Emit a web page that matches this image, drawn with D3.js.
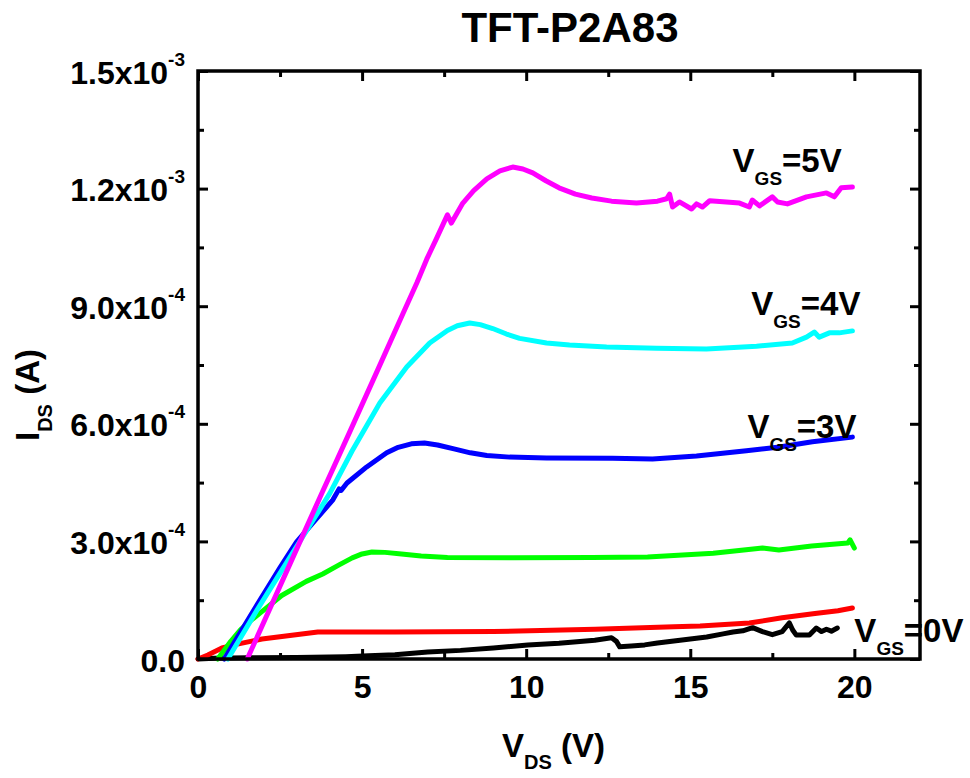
<!DOCTYPE html>
<html>
<head>
<meta charset="utf-8">
<script src="https://cdn.jsdelivr.net/npm/d3@7"></script>
<style>
  html, body { margin: 0; padding: 0; background: #fff; }
  svg { display: block; font-family: "Liberation Sans", Arial, Helvetica, sans-serif; font-weight: bold; }
</style>
</head>
<body>
<svg id="chart" width="970" height="778"></svg>
<script>
// Output characteristics I_DS(V_DS) of TFT-P2A83 for several gate voltages.
// Each series: [V_DS (V), I_DS in units of 1e-4 A]
const CURRENT_UNIT = 1e-4;

const vgs0 = [[0,0],[0.5,0.02],[1.5,0.03],[3,0.04],[4.5,0.06],[5.2,0.08],[6,0.11],[7,0.18],[8,0.22],[9,0.28],[10.05,0.36],[11,0.40],[12.09,0.48],[12.6,0.54],[12.75,0.45],[12.85,0.31],[13.2,0.33],[13.61,0.36],[14.0,0.41],[14.5,0.46],[15.0,0.51],[15.5,0.56],[16.0,0.64],[16.3,0.69],[16.6,0.72],[16.9,0.80],[17.2,0.70],[17.5,0.62],[17.8,0.70],[18.02,0.92],[18.12,0.74],[18.23,0.61],[18.63,0.61],[18.84,0.79],[19.0,0.70],[19.15,0.76],[19.3,0.71],[19.48,0.79]];

const vgs1 = [[0,0],[0.3,0.10],[0.73,0.28],[1.2,0.38],[1.95,0.51],[2.8,0.60],[3.65,0.69],[4.5,0.69],[6,0.69],[9,0.70],[12.1,0.76],[14.5,0.82],[15.3,0.84],[16.8,0.92],[17.8,1.05],[18.8,1.16],[19.5,1.23],[19.94,1.30]];

const vgs2 = [[0.6,0],[1.0,0.45],[1.3,0.75],[1.58,0.96],[1.89,1.17],[2.55,1.62],[3.3,1.98],[3.8,2.17],[4.3,2.40],[4.7,2.58],[5.0,2.68],[5.3,2.73],[5.7,2.72],[6.2,2.68],[6.8,2.63],[7.6,2.59],[9.6,2.58],[12,2.59],[13.7,2.60],[15.7,2.70],[17.2,2.83],[17.7,2.78],[18.7,2.88],[19.8,2.96],[19.87,3.04],[20.0,2.83]];

const vgs3 = [[0.8,0],[1.8,1.38],[2.5,2.33],[3.0,2.98],[3.5,3.47],[4.11,4.06],[4.3,4.34],[4.36,4.30],[4.54,4.49],[5.14,4.90],[5.75,5.26],[6.1,5.40],[6.5,5.49],[6.9,5.51],[7.3,5.46],[7.8,5.36],[8.3,5.26],[8.8,5.19],[9.5,5.15],[10.62,5.13],[12.63,5.12],[13.85,5.10],[15.19,5.18],[16.71,5.31],[17.72,5.41],[18.72,5.54],[19.94,5.66]];

const vgs4 = [[0.91,0],[1.8,1.25],[2.5,2.19],[3.32,3.29],[4.02,4.23],[4.69,5.30],[5.54,6.53],[6.36,7.45],[7.06,8.06],[7.6,8.38],[7.9,8.50],[8.28,8.57],[8.6,8.53],[8.98,8.43],[9.4,8.29],[9.8,8.18],[10.62,8.06],[11.32,8.01],[12.45,7.96],[13.97,7.93],[15.49,7.91],[17.02,7.98],[18.11,8.06],[18.54,8.21],[18.78,8.34],[18.93,8.21],[19.24,8.32],[19.54,8.32],[19.94,8.37]];

const vgs5 = [[1.5,0],[2.8,2.42],[3.8,4.28],[4.6,5.75],[5.5,7.42],[6.24,8.80],[6.67,9.60],[6.97,10.20],[7.28,10.75],[7.6,11.33],[7.72,11.12],[8.07,11.63],[8.4,11.95],[8.8,12.25],[9.2,12.45],[9.59,12.55],[9.9,12.50],[10.2,12.40],[10.6,12.20],[11.0,12.02],[11.5,11.86],[12.0,11.76],[12.6,11.68],[13.36,11.63],[14.0,11.68],[14.28,11.74],[14.37,11.86],[14.46,11.53],[14.67,11.66],[15.04,11.48],[15.19,11.61],[15.37,11.53],[15.59,11.69],[16.5,11.63],[16.8,11.53],[16.89,11.71],[17.11,11.56],[17.5,11.79],[17.66,11.66],[17.96,11.61],[18.54,11.79],[19.15,11.89],[19.39,11.79],[19.6,12.02],[19.94,12.04]];

const seriesList = [vgs0, vgs1, vgs2, vgs3, vgs4, vgs5];
const seriesColors = ["#000000", "#ff0000", "#00ff00", "#0000ff", "#00ffff", "#ff00ff"];

const xTickValues = [0, 5, 10, 15, 20];
const xMinorValues = [2.5, 7.5, 12.5, 17.5];
const yTickValues = [0, 3e-4, 6e-4, 9e-4, 1.2e-3, 1.5e-3];
const yMinorValues = [1.5e-4, 4.5e-4, 7.5e-4, 1.05e-3, 1.35e-3];
const yTickMantissa = ["0.0", "3.0x10", "6.0x10", "9.0x10", "1.2x10", "1.5x10"];
const yTickExponent = ["", "-4", "-4", "-4", "-3", "-3"];

// Curve annotations: gate voltage, anchor [V_DS, I_DS in 1e-4 A]
const vgsLabels = [
  { v: "5V", at: [16.29, 12.42] },
  { v: "4V", at: [16.86, 8.78] },
  { v: "3V", at: [16.74, 5.64] },
  { v: "0V", at: [20.0, 0.43] }
];

const svg = d3.select("#chart");
const plotLeft = 198, plotRight = 920, plotTop = 71, plotBottom = 659;

const x = d3.scaleLinear().domain([0, 22]).range([plotLeft, plotRight]);
const y = d3.scaleLinear().domain([0, 1.5e-3]).range([plotBottom, plotTop]);

// Title
svg.append("text")
  .attr("x", 570).attr("y", 42)
  .attr("text-anchor", "middle")
  .style("font-size", "42px")
  .text("TFT-P2A83");

// Curves
const line = d3.line()
  .x(d => x(d[0]))
  .y(d => y(d[1] * CURRENT_UNIT));

svg.append("g")
  .selectAll("path")
  .data(seriesList)
  .join("path")
  .attr("d", line)
  .attr("fill", "none")
  .attr("stroke", (d, i) => seriesColors[i])
  .attr("stroke-width", 5)
  .attr("stroke-linejoin", "round")
  .attr("stroke-linecap", "round");

// Axes with inward ticks on all four sides
function styleAxis(g) {
  g.select(".domain").remove();
  g.selectAll(".tick line").attr("stroke", "#000").attr("stroke-width", 3);
  g.selectAll("text").style("font-size", "32px").style("font-family", "inherit").style("font-weight", "bold").attr("fill", "#000");
}

svg.append("g").attr("transform", `translate(0,${plotBottom})`)
  .call(d3.axisBottom(x).tickValues(xTickValues).tickSizeInner(-10).tickSizeOuter(0).tickPadding(16).tickFormat(d3.format("d")))
  .call(styleAxis);
svg.append("g").attr("transform", `translate(0,${plotBottom})`)
  .call(d3.axisBottom(x).tickValues(xMinorValues).tickSizeInner(-6).tickSizeOuter(0).tickFormat(""))
  .call(styleAxis);
svg.append("g").attr("transform", `translate(0,${plotTop})`)
  .call(d3.axisTop(x).tickValues(xTickValues).tickSizeInner(-10).tickSizeOuter(0).tickFormat(""))
  .call(styleAxis);
svg.append("g").attr("transform", `translate(0,${plotTop})`)
  .call(d3.axisTop(x).tickValues(xMinorValues).tickSizeInner(-6).tickSizeOuter(0).tickFormat(""))
  .call(styleAxis);

const yAxisG = svg.append("g").attr("transform", `translate(${plotLeft},0)`)
  .call(d3.axisLeft(y).tickValues(yTickValues).tickSizeInner(-10).tickSizeOuter(0).tickPadding(13).tickFormat(""))
  .call(styleAxis);
yAxisG.selectAll(".tick text").each(function (d, i) {
  const t = d3.select(this).attr("dy", null).attr("y", 12);
  t.append("tspan").text(yTickMantissa[i]);
  if (yTickExponent[i]) {
    t.append("tspan").attr("dy", -18).style("font-size", "19px").text(yTickExponent[i]);
  }
});
svg.append("g").attr("transform", `translate(${plotLeft},0)`)
  .call(d3.axisLeft(y).tickValues(yMinorValues).tickSizeInner(-6).tickSizeOuter(0).tickFormat(""))
  .call(styleAxis);
svg.append("g").attr("transform", `translate(${plotRight},0)`)
  .call(d3.axisRight(y).tickValues(yTickValues).tickSizeInner(-10).tickSizeOuter(0).tickFormat(""))
  .call(styleAxis);
svg.append("g").attr("transform", `translate(${plotRight},0)`)
  .call(d3.axisRight(y).tickValues(yMinorValues).tickSizeInner(-6).tickSizeOuter(0).tickFormat(""))
  .call(styleAxis);

// Frame
svg.append("rect")
  .attr("x", plotLeft).attr("y", plotTop)
  .attr("width", plotRight - plotLeft).attr("height", plotBottom - plotTop)
  .attr("fill", "none").attr("stroke", "#000").attr("stroke-width", 3.5);

// Gate-voltage annotations
const lab = svg.append("g").selectAll("text").data(vgsLabels).join("text")
  .attr("x", d => x(d.at[0]))
  .attr("y", d => y(d.at[1] * CURRENT_UNIT))
  .style("font-size", "33px");
lab.append("tspan").text("V");
lab.append("tspan").attr("dy", 13).style("font-size", "19px").text("GS");
lab.append("tspan").attr("dy", -13).text(d => "=" + d.v);

// Axis titles
const xt = svg.append("text")
  .attr("x", 502).attr("y", 757)
  .style("font-size", "33px");
xt.append("tspan").text("V");
xt.append("tspan").attr("dy", 12).style("font-size", "20px").text("DS");
xt.append("tspan").attr("dy", -12).text(" (V)");

const yt = svg.append("text")
  .attr("transform", "translate(39,441) rotate(-90)")
  .style("font-size", "33px");
yt.append("tspan").text("I");
yt.append("tspan").attr("dy", 13).style("font-size", "20px").text("DS");
yt.append("tspan").attr("dy", -13).text(" (A)");
</script>
</body>
</html>
